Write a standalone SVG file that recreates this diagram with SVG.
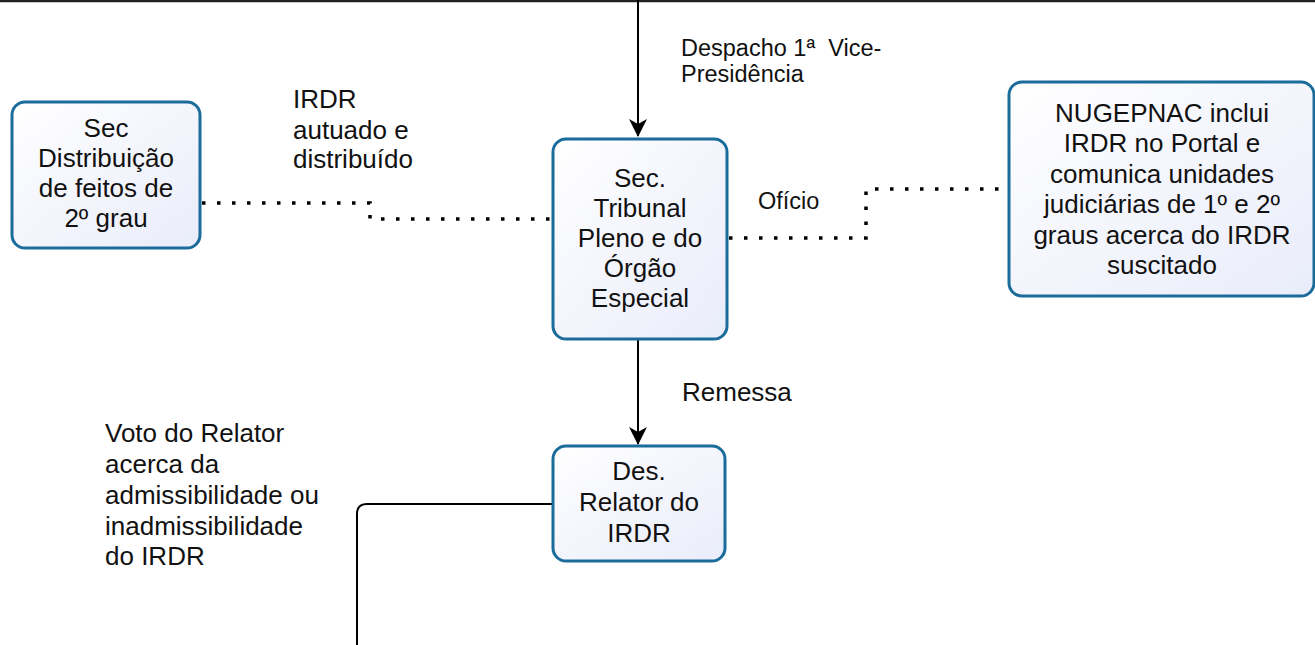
<svg xmlns="http://www.w3.org/2000/svg" width="1315" height="645" viewBox="0 0 1315 645">
<defs>
<linearGradient id="g" x1="0" y1="0" x2="1" y2="1">
<stop offset="0" stop-color="#ffffff"/>
<stop offset="1" stop-color="#e9ecfa"/>
</linearGradient>
<marker id="arr" markerWidth="18" markerHeight="18" viewBox="0 0 18 18" refX="17" refY="9" orient="auto" markerUnits="userSpaceOnUse">
<path d="M0,0 L18,9 L0,18 L5,9 z" fill="#000"/>
</marker>
<style>
.box{fill:url(#g);stroke:#1b6c9b;stroke-width:3}
.t{font-family:"Liberation Sans",Arial,sans-serif;font-size:26px;fill:#111;text-anchor:middle}
.l{font-family:"Liberation Sans",Arial,sans-serif;font-size:26px;fill:#111}
.s{font-family:"Liberation Sans",Arial,sans-serif;font-size:23.5px;fill:#111}
.c{fill:none;stroke:#000;stroke-width:2}
.d{fill:none;stroke:#000;stroke-width:3.5;stroke-dasharray:3.5 11.5}
</style>
</defs>
<rect width="1315" height="645" fill="#fff"/>
<line x1="0" y1="1" x2="1315" y2="1" stroke="#222" stroke-width="2.5"/>
<g id="connectors">
<path class="c" d="M638,0 V136" marker-end="url(#arr)"/>
<path class="c" d="M638,340 V444" marker-end="url(#arr)"/>
<path class="c" d="M552,504 H367 Q357,504 357,514 V645"/>
<path class="d" d="M202,203 H370 V219 H550"/>
<path class="d" d="M729,238 H866 V189 H1008"/>
</g>
<g id="n-distribuicao">
<rect class="box" x="12" y="102" width="188" height="146" rx="13"/>
<text class="t" x="106" y="137">Sec</text>
<text class="t" x="106" y="167">Distribuição</text>
<text class="t" x="106" y="197">de feitos de</text>
<text class="t" x="106" y="227">2º grau</text>
</g>
<g id="n-tribunal">
<rect class="box" x="553" y="139" width="174" height="200" rx="13"/>
<text class="t" x="640" y="187">Sec.</text>
<text class="t" x="640" y="217">Tribunal</text>
<text class="t" x="640" y="247">Pleno e do</text>
<text class="t" x="640" y="277">Órgão</text>
<text class="t" x="640" y="307">Especial</text>
</g>
<g id="n-nugepnac">
<rect class="box" x="1009" y="82" width="305" height="214" rx="13"/>
<text class="t" x="1162" y="122">NUGEPNAC inclui</text>
<text class="t" x="1162" y="152">IRDR no Portal e</text>
<text class="t" x="1162" y="183">comunica unidades</text>
<text class="t" x="1162" y="213">judiciárias de 1º e 2º</text>
<text class="t" x="1162" y="244">graus acerca do IRDR</text>
<text class="t" x="1162" y="274">suscitado</text>
</g>
<g id="n-relator">
<rect class="box" x="553" y="446" width="172" height="115" rx="13"/>
<text class="t" x="639" y="480">Des.</text>
<text class="t" x="639" y="511">Relator do</text>
<text class="t" x="639" y="542">IRDR</text>
</g>
<g id="labels">
<text class="l" x="293" y="108">IRDR</text>
<text class="l" x="293" y="139">autuado e</text>
<text class="l" x="293" y="168">distribuído</text>
<text class="s" x="681" y="56" xml:space="preserve">Despacho 1ª  Vice-</text>
<text class="s" x="681" y="82">Presidência</text>
<text class="s" x="758" y="209">Ofício</text>
<text class="l" x="682" y="401">Remessa</text>
<text class="l" x="105" y="442">Voto do Relator</text>
<text class="l" x="105" y="473">acerca da</text>
<text class="l" x="105" y="504">admissibilidade ou</text>
<text class="l" x="105" y="535">inadmissibilidade</text>
<text class="l" x="105" y="565">do IRDR</text>
</g>
</svg>
